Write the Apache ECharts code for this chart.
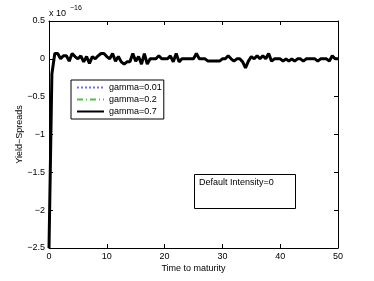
<!DOCTYPE html>
<html><head><meta charset="utf-8">
<script src="https://cdn.jsdelivr.net/npm/echarts@6/dist/echarts.min.js"></script>
<style>html,body{margin:0;padding:0;background:#fff}#c{width:374px;height:281px}</style>
</head><body><div id="c"></div>
<script>
// Time to maturity (years), step 0.5
var times = [];
for (var i = 0; i <= 100; i++) times.push(i * 0.5);
// Yield spreads in units of 1e-16 (all three gamma curves coincide)
var spreadsGamma001 = [
 -2.5,-0.2,0.07,0.07,0.0,0.04,0.04,-0.03,0.07,0.03,
 0.0,0.04,-0.04,0.03,-0.06,0.03,0.0,0.04,0.07,0.07,
 0.03,0.0,0.07,-0.03,0.03,-0.04,-0.07,-0.04,-0.04,0.07,
 -0.03,0.03,-0.07,0.07,-0.07,0.0,0.0,0.0,0.04,0.0,
 0.0,0.0,0.04,-0.04,0.07,-0.04,0.0,0.0,0.0,0.0,
 0.0,0.07,0.0,0.0,0.0,-0.03,-0.03,-0.03,-0.03,-0.03,
 0.0,0.0,0.04,0.0,-0.03,0.0,0.0,-0.04,-0.12,-0.03,
 0.03,0.0,0.04,0.0,0.04,0.0,0.07,-0.03,0.0,0.0,
 0.0,-0.03,0.0,-0.03,0.0,-0.03,0.0,0.0,-0.03,0.0,
 0.0,0.0,0.0,-0.03,0.0,0.0,0.0,-0.03,0.04,0.0,0.0
];
var spreadsGamma02 = spreadsGamma001.slice();
var spreadsGamma07 = spreadsGamma001.slice();
var seriesNames = ['gamma=0.01','gamma=0.2','gamma=0.7'];
var xTicks = [0,10,20,30,40,50];
var yTicks = [-2.5,-2,-1.5,-1,-0.5,0,0.5];

function pairs(v){ return v.map(function(y,i){ return [times[i], y]; }); }
var FONT = 'Liberation Sans, Arial, sans-serif';
var chart = echarts.init(document.getElementById('c'), null, {renderer:'canvas'});
function fmt(v){ return String(v).replace('-', '\u2212'); }
var axisCommon = {
  axisLine:{show:true, onZero:false, lineStyle:{color:'#000', width:1}},
  axisTick:{show:true, inside:true, length:4, lineStyle:{color:'#000'}},
  splitLine:{show:false}
};
chart.setOption({
  animation:false,
  backgroundColor:'#fff',
  grid:{left:49, right:36, top:21, bottom:33, containLabel:false, outerBoundsMode:'none'},
  xAxis:[
    Object.assign({type:'value', min:0, max:50, interval:10, position:'bottom',
      name:'Time to maturity', nameLocation:'middle', nameGap:16, nameMoveOverlap:false,
      nameTextStyle:{fontFamily:FONT, fontSize:9, color:'#000'},
      axisLabel:{fontFamily:FONT, fontSize:9, color:'#000', margin:4}}, axisCommon),
    Object.assign({type:'value', min:0, max:50, interval:10, position:'top',
      axisLabel:{show:false}}, axisCommon)
  ],
  yAxis:[
    Object.assign({type:'value', min:-2.5, max:0.5, interval:0.5, position:'left',
      name:'Yield\u2212Spreads', nameLocation:'middle', nameGap:25, nameMoveOverlap:false,
      nameTextStyle:{fontFamily:FONT, fontSize:9, color:'#000'},
      axisLabel:{fontFamily:FONT, fontSize:9, color:'#000', margin:4, formatter:fmt}}, axisCommon),
    Object.assign({type:'value', min:-2.5, max:0.5, interval:0.5, position:'right',
      axisLabel:{show:false}}, axisCommon)
  ],
  legend:{
    orient:'vertical', left:71, top:80,
    data:seriesNames,
    backgroundColor:'#fff', borderColor:'#000', borderWidth:1,
    padding:[3,2,3,5], itemGap:3, itemWidth:27, itemHeight:9,
    itemStyle:{opacity:0},
    textStyle:{fontFamily:FONT, fontSize:9, color:'#000'},
    selectedMode:false
  },
  series:[
    {name:seriesNames[0], type:'line', data:pairs(spreadsGamma001), showSymbol:false, symbol:'none',
      lineStyle:{color:'#7070ff', width:1, type:'dotted'}, itemStyle:{color:'#7070ff'}, z:2},
    {name:seriesNames[1], type:'line', data:pairs(spreadsGamma02), showSymbol:false, symbol:'none',
      lineStyle:{color:'#50c050', width:1, type:[6,3,1,3]}, itemStyle:{color:'#50c050'}, z:3},
    {name:seriesNames[2], type:'line', data:pairs(spreadsGamma07), showSymbol:false, symbol:'none',
      lineStyle:{color:'#000', width:3}, itemStyle:{color:'#000'}, z:4}
  ],
  graphic:[
    {type:'text', left:49, top:9, style:{text:'x 10', font:'9px '+FONT, fill:'#000'}},
    {type:'text', left:70, top:5, style:{text:'\u221216', font:'7px '+FONT, fill:'#000'}},
    {type:'rect', left:194, top:174, shape:{width:101, height:34},
      style:{fill:'#fff', stroke:'#000', lineWidth:1}},
    {type:'text', left:199, top:178, style:{text:'Default Intensity=0', font:'9px '+FONT, fill:'#000'}}
  ]
});
</script></body></html>
